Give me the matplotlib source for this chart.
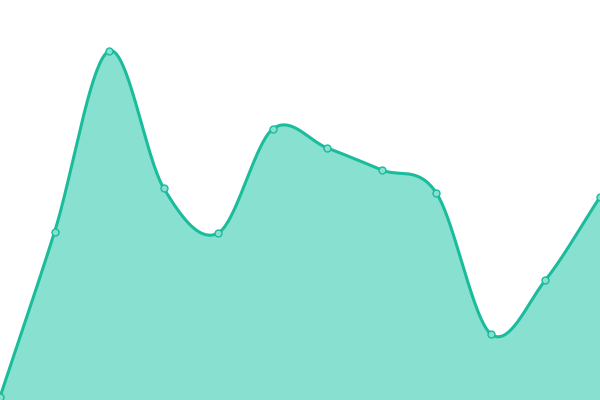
import numpy as np
import matplotlib
matplotlib.use("Agg")
from matplotlib import pyplot as plt

LINE = '#1abc9c'
FILL = '#88e0d0'

# data (pixel-height units, 0..400)
xs = np.arange(12)
values = [3, 168, 349, 212, 167, 271, 252, 230, 207, 66, 120, 203]


def catmull_rom(x, y, n=40):
    x = np.asarray(x, float)
    y = np.asarray(y, float)
    px = np.concatenate([[2*x[0]-x[1]], x, [2*x[-1]-x[-2]]])
    py = np.concatenate([[2*y[0]-y[1]], y, [2*y[-1]-y[-2]]])
    outx, outy = [], []
    t = np.linspace(0, 1, n)
    for i in range(1, len(px)-2):
        for p, out in ((px, outx), (py, outy)):
            p0, p1, p2, p3 = p[i-1], p[i], p[i+1], p[i+2]
            seg = 0.5*((2*p1) + (-p0+p2)*t + (2*p0-5*p1+4*p2-p3)*t**2
                       + (-p0+3*p1-3*p2+p3)*t**3)
            out.extend(seg[:-1] if i < len(px)-3 else seg)
    return np.array(outx), np.array(outy)


sx, sy = catmull_rom(xs, values)

fig = plt.figure(figsize=(6, 4), dpi=100)
ax = fig.add_axes([0, 0, 1, 1])
ax.fill_between(sx, sy, 0, color=FILL, lw=0)
ax.plot(sx, sy, color=LINE, lw=2.2, solid_capstyle='round')
ax.plot(xs, values, 'o', ms=5, mfc=FILL, mec=LINE, mew=1)
ax.set_xlim(0, 11)
ax.set_ylim(0, 400)
ax.axis('off')
fig.savefig('out.png')
